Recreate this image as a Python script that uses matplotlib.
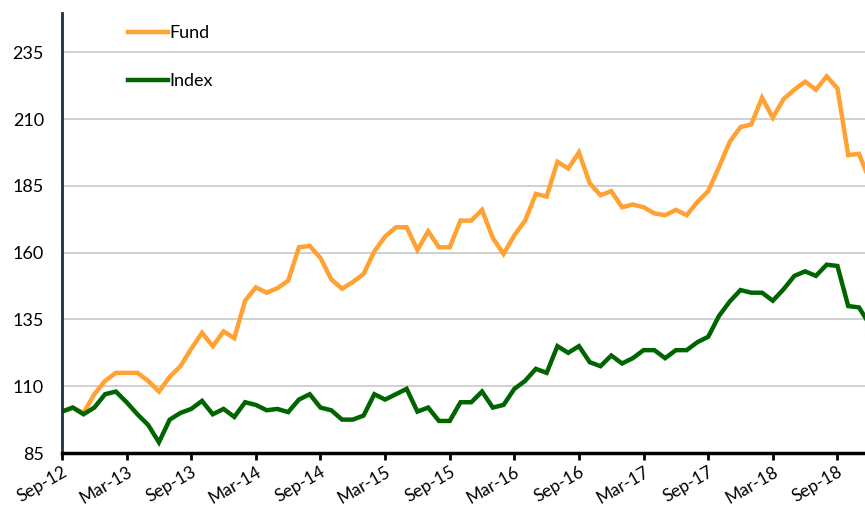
import matplotlib
matplotlib.use("Agg")
import matplotlib.pyplot as plt

plt.rcParams['font.family'] = ['Lato', 'DejaVu Sans']

# monthly values, Sep-12 .. Dec-18
fund = [100.5, 102, 100, 107, 112, 115, 115, 115, 112, 108,
        113.5, 117.5, 124, 130, 125, 130.5, 128, 142, 147, 145,
        146.7, 149.5, 162, 162.5, 158, 150, 146.5, 149, 152, 160.5,
        166, 169.5, 169.5, 161, 168, 162, 162, 172, 172, 176,
        165.5, 159.5, 166.5, 172, 182, 181, 194, 191.5, 197.5, 186,
        181.5, 183, 177, 178, 177, 174.7, 174, 176, 174, 179,
        183, 192, 201.5, 207, 208, 218, 210.5, 217.5, 221, 224,
        221, 226, 221.5, 196.5, 197, 187]
index = [100.5, 102, 99.5, 102, 107, 108, 104, 99.5, 95.5, 89,
         97.5, 100, 101.5, 104.5, 99.5, 101.5, 98.5, 104, 103, 101,
         101.5, 100.3, 105, 107, 102, 101, 97.5, 97.5, 99, 107,
         105, 107, 109, 100.5, 102, 97, 97, 104, 104, 108,
         102, 103, 109, 112, 116.5, 115, 125, 122.5, 125, 119,
         117.5, 121.5, 118.5, 120.5, 123.5, 123.5, 120.5, 123.5, 123.5, 126.5,
         128.5, 136.3, 141.7, 146, 145, 145, 142, 146.3, 151.3, 153,
         151.3, 155.5, 155, 140, 139.5, 133]
tick_labels = ['Sep-12', 'Mar-13', 'Sep-13', 'Mar-14', 'Sep-14', 'Mar-15',
               'Sep-15', 'Mar-16', 'Sep-16', 'Mar-17', 'Sep-17', 'Mar-18', 'Sep-18']
y_ticks = [85, 110, 135, 160, 185, 210, 235]

months = list(range(len(fund)))

fig = plt.figure(figsize=(8.65, 5.09), dpi=100)
ax = fig.add_axes([62 / 865, 1 - 453 / 509, 1 - 62 / 865, (453 - 13) / 509])

ax.plot(months, fund, color='#FFA133', lw=3.2, label='Fund', solid_joinstyle='miter')
ax.plot(months, index, color='#006400', lw=3.2, label='Index', solid_joinstyle='miter')

ax.set_xlim(0, (865 - 62) / 10.77)
ax.set_ylim(85, 249.7)
ax.set_yticks(y_ticks)
ax.set_xticks(range(0, 6 * len(tick_labels), 6))
ax.set_xticklabels(tick_labels, rotation=30, ha='right', rotation_mode='anchor')
ax.tick_params(axis='x', direction='out', length=5, width=2, labelsize=12.5, pad=3)
ax.tick_params(axis='y', length=0, labelsize=13, pad=13)

ax.grid(axis='y', color='#C8C8C8', lw=1.2)
ax.set_axisbelow(True)
for s in ['top', 'right']:
    ax.spines[s].set_visible(False)
ax.spines['left'].set_color('#1F2D4A')
ax.spines['left'].set_linewidth(2)
ax.spines['bottom'].set_color('black')
ax.spines['bottom'].set_linewidth(2.5)

leg = ax.legend(loc='upper left', bbox_to_anchor=(0.062, 1.01), frameon=False,
                handlelength=2.2, handletextpad=0.1, labelspacing=1.8, fontsize=13)

fig.savefig('out.png', dpi=100)
